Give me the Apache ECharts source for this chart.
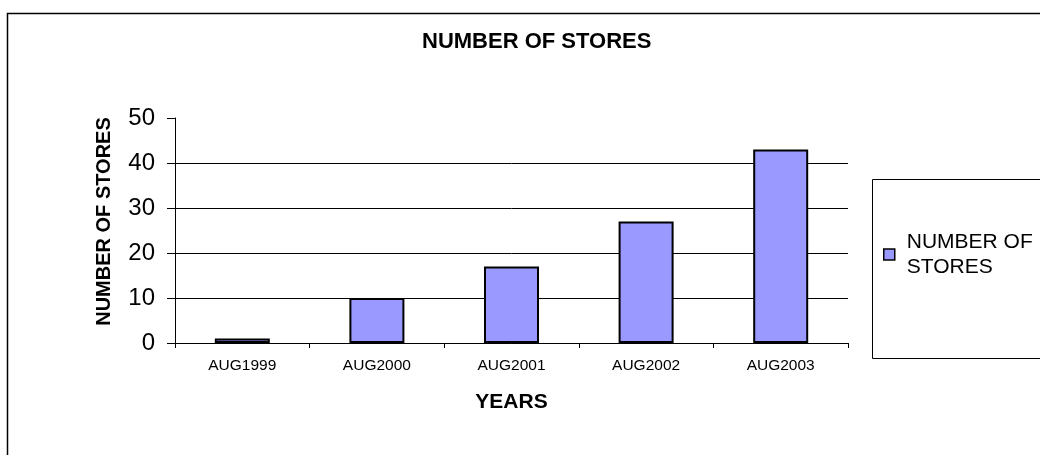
<!DOCTYPE html>
<html>
<head>
<meta charset="utf-8">
<script src="https://cdn.jsdelivr.net/npm/echarts@6/dist/echarts.min.js"></script>
<style>
  html, body { margin: 0; padding: 0; background: #fff; }
  #chart { width: 1040px; height: 455px; }
</style>
</head>
<body>
<div id="chart"></div>
<script>
// Store count at each August year-end
const categories = ['AUG1999', 'AUG2000', 'AUG2001', 'AUG2002', 'AUG2003'];
const storeCounts = [1, 10, 17, 27, 43];
const seriesName = 'NUMBER OF STORES';
const yTicks = { min: 0, max: 50, step: 10 };

const FONT = "'Liberation Sans', Arial, sans-serif";
const chart = echarts.init(document.getElementById('chart'), null, { renderer: 'canvas' });

chart.setOption({
  animation: false,
  backgroundColor: '#ffffff',
  title: {
    text: 'NUMBER OF STORES',
    left: 422,
    top: 31,
    padding: 0,
    textStyle: { fontFamily: FONT, fontSize: 22, fontWeight: 'bold', color: '#000' }
  },
  grid: { left: 175, right: 192, top: 118, bottom: 112, containLabel: false },
  legend: {
    data: [seriesName],
    left: 883,
    top: 217,
    padding: 0,
    icon: 'rect',
    itemWidth: 11,
    itemHeight: 11,
    itemStyle: { color: '#9999ff', borderColor: '#000', borderWidth: 1.5 },
    formatter: () => 'NUMBER OF\nSTORES',
    textStyle: { fontFamily: FONT, fontSize: 21, lineHeight: 25, color: '#000', padding: [25, 0, 0, 7] }
  },
  graphic: [
    { type: 'rect', silent: true, z: -1,
      shape: { x: 7.5, y: 13.5, width: 1060, height: 460 },
      style: { fill: 'none', stroke: '#000', lineWidth: 1.5 } },
    { type: 'rect', silent: true, z: -1,
      shape: { x: 872.5, y: 179.5, width: 200, height: 179 },
      style: { fill: 'none', stroke: '#000', lineWidth: 1 } }
  ],
  xAxis: {
    type: 'category',
    data: categories,
    boundaryGap: true,
    name: 'YEARS',
    nameLocation: 'middle',
    nameGap: 49,
    nameTextStyle: { fontFamily: FONT, fontSize: 21, fontWeight: 'bold', color: '#000' },
    axisLine: { lineStyle: { color: '#000', width: 1 } },
    axisTick: { show: true, inside: false, length: 5, lineStyle: { color: '#000' } },
    axisLabel: { fontFamily: FONT, fontSize: 15.5, color: '#000', margin: 15 },
    splitLine: { show: false }
  },
  yAxis: {
    type: 'value',
    min: yTicks.min,
    max: yTicks.max,
    interval: yTicks.step,
    name: 'NUMBER OF STORES',
    nameLocation: 'middle',
    nameRotate: 90,
    nameGap: 61,
    nameTextStyle: { fontFamily: FONT, fontSize: 20, fontWeight: 'bold', color: '#000', padding: [0, 0, 0, 18] },
    axisLine: { show: true, lineStyle: { color: '#000', width: 1 } },
    axisTick: { show: true, inside: false, length: 8, lineStyle: { color: '#000' } },
    axisLabel: { fontFamily: FONT, fontSize: 24, color: '#000', margin: 20 },
    splitLine: { show: true, showMaxLine: false, lineStyle: { color: '#000', width: 1 } }
  },
  series: [{
    name: seriesName,
    type: 'bar',
    data: storeCounts,
    barWidth: 55,
    itemStyle: { color: '#9999ff', borderColor: '#000', borderWidth: 2 }
  }]
});
</script>
</body>
</html>
